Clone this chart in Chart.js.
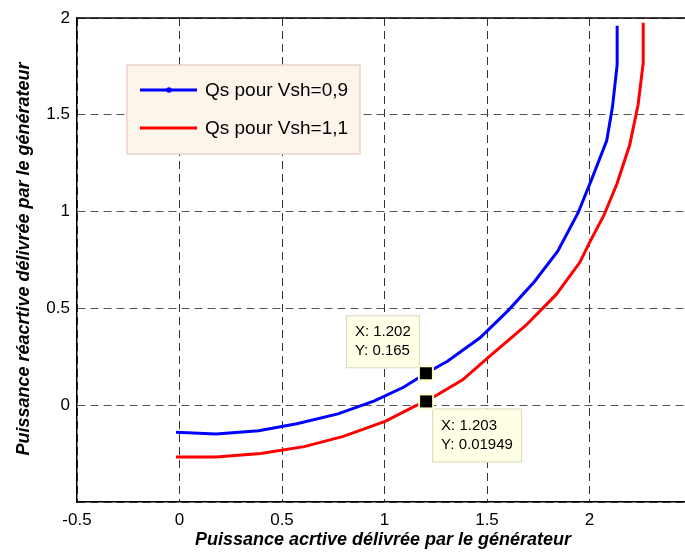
<!DOCTYPE html>
<html>
<head>
<meta charset="utf-8">
<script src="https://cdn.jsdelivr.net/npm/chart.js@4/dist/chart.umd.min.js"></script>
<style>
  html, body { margin: 0; padding: 0; background: #fff; overflow: hidden; }
  #wrap { width: 700px; height: 554px; }
</style>
</head>
<body>
<div id="wrap"><canvas id="chart" width="700" height="554"></canvas></div>
<script>
// ── Data ──
const blueX = [-0.017, 0.178, 0.386, 0.572, 0.773, 0.951, 1.095, 1.202, 1.307, 1.466, 1.604, 1.731, 1.845, 1.944, 2.008, 2.084, 2.112, 2.135, 2.135];
const blueY = [-0.140, -0.149, -0.132, -0.096, -0.045, 0.022, 0.094, 0.165, 0.227, 0.348, 0.490, 0.638, 0.795, 0.993, 1.160, 1.367, 1.540, 1.760, 1.960];
const redX  = [-0.017, 0.178, 0.396, 0.608, 0.799, 1.006, 1.148, 1.203, 1.381, 1.508, 1.689, 1.837, 1.953, 2.000, 2.070, 2.134, 2.196, 2.237, 2.262, 2.262];
const redY  = [-0.267, -0.267, -0.250, -0.214, -0.161, -0.082, -0.005, 0.01949, 0.131, 0.248, 0.412, 0.571, 0.738, 0.840, 0.980, 1.144, 1.344, 1.552, 1.768, 1.976];
const seriesLabels = ['Qs pour Vsh=0,9', 'Qs pour Vsh=1,1'];
const xTicks = [-0.5, 0, 0.5, 1, 1.5, 2];
const yTicks = [0, 0.5, 1, 1.5, 2];
const xTitle = 'Puissance acrtive délivrée par le générateur';
const yTitle = 'Puissance réacrtive délivrée par le générateur';
// data tips on the two curves
const tips = [
  { x: 1.202, y: 0.165, ds: 0, lines: ['X: 1.202', 'Y: 0.165'] },
  { x: 1.203, y: 0.01949, ds: 1, lines: ['X: 1.203', 'Y: 0.01949'] }
];

const FONT = '"Liberation Sans", Arial, sans-serif';
const toXY = (xs, ys) => xs.map((x, i) => ({ x, y: ys[i] }));

// ── Overlay: frame, axis titles, legend, data tips ──
const overlay = {
  id: 'overlay',
  afterDatasetsDraw(chart) {
    const ctx = chart.ctx;
    const a = chart.chartArea;
    const xs = chart.scales.x, ys = chart.scales.y;
    ctx.save();

    // solid top frame line
    ctx.strokeStyle = '#000';
    ctx.lineWidth = 1.5;
    ctx.beginPath();
    ctx.moveTo(a.left, a.top); ctx.lineTo(a.right, a.top);
    ctx.stroke();

    // data tips
    tips.forEach((t, i) => {
      const px = xs.getPixelForValue(t.x), py = ys.getPixelForValue(t.y);
      let bx, by, bw, bh;
      if (i === 0) { bw = 74; bh = 53; bx = px - 80; by = py - 58; }
      else { bw = 90; bh = 54; bx = px + 6; by = py + 7; }
      ctx.fillStyle = '#ffffe6';
      ctx.strokeStyle = '#d9d9c4';
      ctx.lineWidth = 1;
      ctx.fillRect(bx, by, bw, bh);
      ctx.strokeRect(bx + 0.5, by + 0.5, bw - 1, bh - 1);
      ctx.fillStyle = '#000';
      ctx.font = '15px ' + FONT;
      ctx.textBaseline = 'middle';
      ctx.textAlign = 'left';
      ctx.fillText(t.lines[0], bx + 9, by + 17);
      ctx.fillText(t.lines[1], bx + 9, by + 36);
      // marker
      ctx.fillStyle = '#ffffd0';
      ctx.fillRect(px - 8, py - 8, 16, 16);
      ctx.fillStyle = '#000';
      ctx.fillRect(px - 6, py - 6, 12, 12);
    });

    // legend
    const lx = 127, ly = 65, lw = 233, lh = 89;
    ctx.fillStyle = '#fdf4ea';
    ctx.fillRect(lx, ly, lw, lh);
    ctx.strokeStyle = '#ead3cb';
    ctx.lineWidth = 1.5;
    ctx.strokeRect(lx, ly, lw, lh);
    chart.data.datasets.forEach((d, i) => {
      const yy = ly + 25 + i * 38;
      ctx.strokeStyle = d.borderColor;
      ctx.lineWidth = 3;
      ctx.beginPath();
      ctx.moveTo(lx + 13, yy); ctx.lineTo(lx + 70, yy);
      ctx.stroke();
      if (i === 0) {
        ctx.fillStyle = d.borderColor;
        ctx.beginPath(); ctx.arc(lx + 42, yy, 2.8, 0, Math.PI * 2); ctx.fill();
      }
      ctx.fillStyle = '#000';
      ctx.font = '19px ' + FONT;
      ctx.textAlign = 'left';
      ctx.textBaseline = 'middle';
      ctx.fillText(d.label, lx + 78, yy + 1);
    });

    // axis titles
    ctx.fillStyle = '#000';
    ctx.font = 'italic bold 18px ' + FONT;
    ctx.textAlign = 'center';
    ctx.textBaseline = 'middle';
    ctx.fillText(xTitle, 383, 540);
    ctx.translate(24, 259);
    ctx.rotate(-Math.PI / 2);
    ctx.fillText(yTitle, 0, 0);
    ctx.restore();
  }
};

const ctx = document.getElementById('chart').getContext('2d');
new Chart(ctx, {
  type: 'scatter',
  data: {
    datasets: [
      { label: seriesLabels[0], data: toXY(blueX, blueY), showLine: true, borderColor: '#0000ff', borderWidth: 3, pointRadius: 0, tension: 0, fill: false },
      { label: seriesLabels[1], data: toXY(redX, redY), showLine: true, borderColor: '#ff0000', borderWidth: 3, pointRadius: 0, tension: 0, fill: false }
    ]
  },
  options: {
    responsive: false,
    animation: false,
    layout: { padding: { left: 0, top: 18, right: 0, bottom: 0 } },
    plugins: { legend: { display: false }, tooltip: { enabled: false } },
    scales: {
      x: {
        type: 'linear', min: -0.5, max: 2.5,
        afterBuildTicks: s => { s.ticks = [...xTicks, 2.5].map(v => ({ value: v })); },
        afterFit: s => { s.height = 52; },
        ticks: {
          color: '#000', padding: 8, font: { family: FONT, size: 17 },
          maxRotation: 0, autoSkip: false,
          callback: v => xTicks.includes(v) ? String(v) : ''
        },
        grid: { color: '#333', lineWidth: 1, drawTicks: false },
        border: { display: true, color: '#000', width: 1.5, dash: [8, 5] }
      },
      y: {
        type: 'linear', min: -0.5, max: 2,
        afterBuildTicks: s => { s.ticks = [-0.5, ...yTicks].map(v => ({ value: v })); },
        afterFit: s => { s.width = 77; },
        ticks: {
          color: '#000', padding: 7, font: { family: FONT, size: 17 },
          autoSkip: false,
          callback: v => yTicks.includes(v) ? String(v) : ''
        },
        grid: { color: '#555', lineWidth: 1, drawTicks: false },
        border: { display: true, color: '#000', width: 1.5, dash: [8, 5] }
      }
    }
  },
  plugins: [overlay]
});
</script>
</body>
</html>
